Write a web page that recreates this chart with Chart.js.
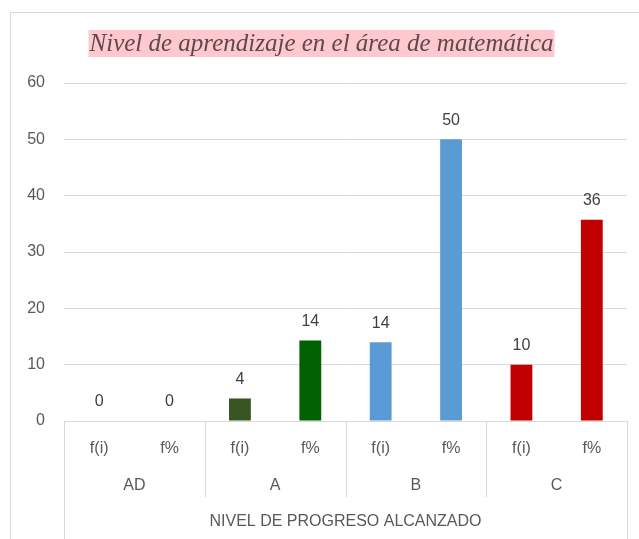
<!DOCTYPE html>
<html>
<head>
<meta charset="utf-8">
<script src="https://cdn.jsdelivr.net/npm/chart.js@4/dist/chart.umd.min.js"></script>
<style>
  html, body { margin: 0; padding: 0; background: #fff; }
  #wrap { width: 639px; height: 539px; position: relative; }
</style>
</head>
<body>
<div id="wrap"><canvas id="chart" width="639" height="539"></canvas></div>
<script>
// data
const groups = ['AD', 'A', 'B', 'C'];
const subLabels = ['f(i)', 'f%'];
const categories = ['f(i)', 'f%', 'f(i)', 'f%', 'f(i)', 'f%', 'f(i)', 'f%'];
const values = [0, 0, 4, 14.29, 14, 50, 10, 35.71];
const barColors = ['#375623', '#006100', '#375623', '#006100', '#5b9bd5', '#5b9bd5', '#c00000', '#c00000'];
const yTicks = [0, 10, 20, 30, 40, 50, 60];
const chartTitle = 'Nivel de aprendizaje en el área de matemática';
const axisTitle = 'NIVEL DE PROGRESO ALCANZADO';

const FONT = '"Liberation Sans", Arial, sans-serif';
const GRID = '#d9d9d9';
const TEXT = '#595959';

// frame, title with pink highlight, multi-level category axis, value labels
const excelLook = {
    id: 'excelLook',
    beforeDraw(chart) {
        const ctx = chart.ctx;
        ctx.save();
        ctx.strokeStyle = GRID;
        ctx.lineWidth = 1;
        ctx.strokeRect(10.5, 12.5, 700, 600);
        // title
        ctx.font = 'italic 25px "Liberation Serif", "Times New Roman", serif';
        const w = ctx.measureText(chartTitle).width;
        const cx = (chart.chartArea.left + chart.chartArea.right) / 2 - 24;
        ctx.fillStyle = '#ffc7ce';
        ctx.fillRect(cx - w / 2 - 1, 30, w + 2, 27);
        ctx.fillStyle = '#5e4a4d';
        ctx.textAlign = 'center';
        ctx.textBaseline = 'middle';
        ctx.fillText(chartTitle, cx, 44);
        ctx.restore();
    },
    afterDraw(chart) {
        const ctx = chart.ctx;
        const x = chart.scales.x;
        const area = chart.chartArea;
        const base = chart.scales.y.getPixelForValue(0);
        ctx.save();
        ctx.strokeStyle = GRID;
        ctx.lineWidth = 1;
        // baseline
        ctx.beginPath();
        ctx.moveTo(area.left, Math.round(base) + 0.5);
        ctx.lineTo(area.right, Math.round(base) + 0.5);
        ctx.stroke();
        // group separators
        const bounds = [area.left];
        for (let g = 1; g < groups.length; g++) {
            bounds.push((x.getPixelForValue(2 * g - 1) + x.getPixelForValue(2 * g)) / 2);
        }
        bounds.push(area.right);
        bounds.forEach((bx, i) => {
            const outer = i === 0 || i === bounds.length - 1;
            ctx.beginPath();
            ctx.moveTo(Math.round(bx) + 0.5, base);
            ctx.lineTo(Math.round(bx) + 0.5, outer ? 539 : base + 76);
            ctx.stroke();
        });
        // group labels and axis title
        ctx.fillStyle = TEXT;
        ctx.font = '16px ' + FONT;
        ctx.textAlign = 'center';
        ctx.textBaseline = 'middle';
        groups.forEach((g, i) => {
            ctx.fillText(g, (bounds[i] + bounds[i + 1]) / 2, base + 65);
        });
        ctx.fillText(axisTitle, (area.left + area.right) / 2, base + 101);
        ctx.restore();
    },
    afterDatasetsDraw(chart) {
        const ctx = chart.ctx;
        const meta = chart.getDatasetMeta(0);
        ctx.save();
        ctx.fillStyle = '#404040';
        ctx.font = '16px ' + FONT;
        ctx.textAlign = 'center';
        ctx.textBaseline = 'bottom';
        meta.data.forEach((bar, i) => {
            ctx.fillText(String(Math.round(values[i])), bar.x, bar.y - 11);
        });
        ctx.restore();
    }
};

new Chart(document.getElementById('chart').getContext('2d'), {
    type: 'bar',
    data: {
        labels: categories,
        datasets: [{
            data: values,
            backgroundColor: barColors,
            borderWidth: 0,
            barPercentage: 0.62,
            categoryPercentage: 0.5
        }]
    },
    options: {
        responsive: false,
        animation: false,
        layout: { padding: { left: 10, right: 12, top: 83, bottom: 0 } },
        plugins: { legend: { display: false }, tooltip: { enabled: false } },
        scales: {
            y: {
                min: 0,
                max: 60,
                afterFit: s => { s.width = 54; },
                afterBuildTicks: s => { s.ticks = yTicks.map(v => ({ value: v })); },
                grid: { color: GRID, drawTicks: false },
                border: { display: false },
                ticks: { color: TEXT, font: { family: FONT, size: 16 }, padding: 19 }
            },
            x: {
                afterFit: s => { s.height = 118; },
                grid: { display: false },
                border: { display: false },
                ticks: { color: TEXT, font: { family: FONT, size: 16 }, padding: 10, maxRotation: 0 }
            }
        }
    },
    plugins: [excelLook]
});
</script>
</body>
</html>
